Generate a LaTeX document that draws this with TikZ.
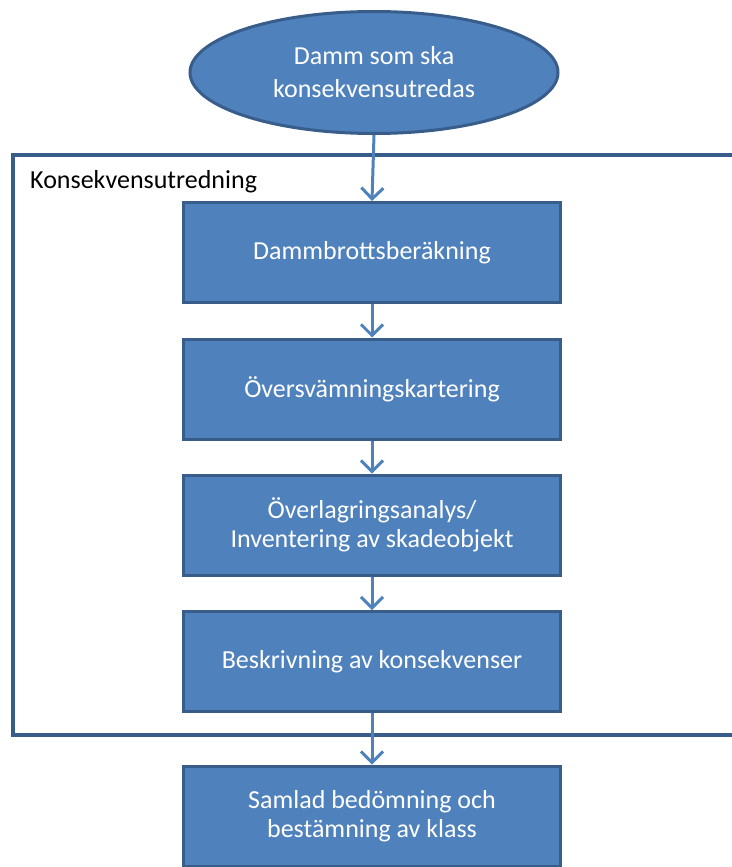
\documentclass[tikz,border=0pt]{standalone}
\usepackage{fontspec}
\setmainfont{Carlito}
\usetikzlibrary{shapes.geometric,arrows.meta}
\definecolor{boxfill}{HTML}{4F81BD}
\definecolor{boxline}{HTML}{385D8A}
\tikzset{
  stepbox/.style={draw=boxline, line width=3pt, fill=boxfill, text=white,
    minimum width=377pt, minimum height=100pt, align=center,
    font=\fontsize{26}{29}\selectfont, inner sep=0pt},
  startnode/.style={ellipse, draw=boxline, line width=3pt, fill=boxfill, text=white,
    minimum width=368pt, minimum height=122pt, align=center,
    font=\fontsize{26}{33}\selectfont, inner sep=0pt},
  flow/.style={draw=boxfill, line width=3pt, -{Straight Barb[length=11pt,width=22pt,line width=3pt]}},
  frame/.style={draw=boxline, line width=4pt},
}
\begin{document}
\begin{tikzpicture}[x=1pt,y=-1pt]
\useasboundingbox (0,0) rectangle (731,867);
\draw[frame] (760,155) -- (12.5,155) -- (12.5,735) -- (760,735);
\node[anchor=west, font=\fontsize{26}{29}\selectfont, inner sep=0pt] (lbl) at (30,182) {Konsekvensutredning};
\node[startnode] (e) at (374,72.5) {Damm som ska\\konsekvensutredas};
\node[stepbox] (b1) at (372,252.5) {Dammbrottsberäkning};
\node[stepbox] (b2) at (372,389) {Översvämningskartering};
\node[stepbox] (b3) at (372,525) {Överlagringsanalys/\\Inventering av skadeobjekt};
\node[stepbox] (b4) at (372,661.5) {Beskrivning av konsekvenser};
\node[stepbox] (b5) at (372,816) {Samlad bedömning och\\bestämning av klass};
\draw[flow] (e.south) -- (b1.north);
\draw[flow] (b1.south) -- (b2.north);
\draw[flow] (b2.south) -- (b3.north);
\draw[flow] (b3.south) -- (b4.north);
\draw[flow] (b4.south) -- (b5.north);
\end{tikzpicture}
\end{document}
